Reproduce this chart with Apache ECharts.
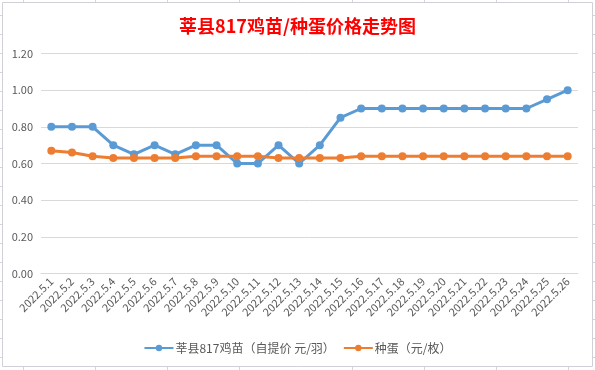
<!DOCTYPE html>
<html><head><meta charset="utf-8">
<script src="https://cdn.jsdelivr.net/npm/echarts@6/dist/echarts.min.js"></script>
<style>html,body{margin:0;padding:0;background:#fff}#c{width:595px;height:370px}</style>
</head><body><div id="c"></div>
<script>
var categories = ['2022.5.1','2022.5.2','2022.5.3','2022.5.4','2022.5.5','2022.5.6','2022.5.7','2022.5.8','2022.5.9','2022.5.10','2022.5.11','2022.5.12','2022.5.13','2022.5.14','2022.5.15','2022.5.16','2022.5.17','2022.5.18','2022.5.19','2022.5.20','2022.5.21','2022.5.22','2022.5.23','2022.5.24','2022.5.25','2022.5.26'];
var chickPrice = [0.80,0.80,0.80,0.70,0.65,0.70,0.65,0.70,0.70,0.60,0.60,0.70,0.60,0.70,0.85,0.90,0.90,0.90,0.90,0.90,0.90,0.90,0.90,0.90,0.95,1.00];
var eggPrice = [0.67,0.66,0.64,0.63,0.63,0.63,0.63,0.64,0.64,0.64,0.64,0.63,0.63,0.63,0.63,0.64,0.64,0.64,0.64,0.64,0.64,0.64,0.64,0.64,0.64,0.64];
var seriesNames = ['莘县817鸡苗（自提价 元/羽）','种蛋（元/枚）'];
var titleText = '莘县817鸡苗/种蛋价格走势图';

var chart = echarts.init(document.getElementById('c'), null, {renderer:'canvas'});
var lineCol = '#d4d4dc';
var gfx = [];
// spreadsheet cell gridlines peeking outside the chart area
var cols = [23,95,167,239,352,424,496,568];
var rows = [];
for (var r = 15; r <= 360; r += 19) rows.push(r);
cols.forEach(function(x){
  gfx.push({type:'line',shape:{x1:x+0.5,y1:0,x2:x+0.5,y2:2},style:{stroke:lineCol,lineWidth:1},silent:true});
  gfx.push({type:'line',shape:{x1:x+0.5,y1:367,x2:x+0.5,y2:370},style:{stroke:lineCol,lineWidth:1},silent:true});
});
rows.forEach(function(y){
  gfx.push({type:'line',shape:{x1:0,y1:y+0.5,x2:2,y2:y+0.5},style:{stroke:lineCol,lineWidth:1},silent:true});
  gfx.push({type:'line',shape:{x1:593,y1:y+0.5,x2:595,y2:y+0.5},style:{stroke:lineCol,lineWidth:1},silent:true});
});
gfx.push({type:'rect',shape:{x:2.5,y:2.5,width:590,height:364},style:{fill:null,stroke:'#d0d0d8',lineWidth:1},silent:true,z:-1});

chart.setOption({
  backgroundColor:'#fff',
  animation:false,
  title:{text:titleText,left:'center',top:12,textStyle:{color:'#ff0000',fontSize:18,fontWeight:'bold',fontFamily:'Noto Sans CJK SC'}},
  graphic:gfx,
  grid:{left:41,right:17,top:53.5,bottom:96.5,containLabel:false},
  legend:{bottom:11,left:'center',itemWidth:29,itemHeight:8,itemGap:8,
    textStyle:{color:'#595959',fontSize:12,fontFamily:'Noto Sans CJK SC',padding:[0,0,0,-3]},data:seriesNames},
  xAxis:{type:'category',data:categories,boundaryGap:true,
    axisLine:{lineStyle:{color:'#d9d9d9'}},axisTick:{show:false},
    axisLabel:{rotate:45,interval:0,color:'#595959',fontSize:11,fontFamily:'Noto Sans CJK SC',margin:6}},
  yAxis:{type:'value',min:0,max:1.2,interval:0.2,
    axisLine:{show:false},axisTick:{show:false},
    splitLine:{lineStyle:{color:'#d9d9d9'}},
    axisLabel:{color:'#595959',fontSize:11,fontFamily:'Noto Sans CJK SC',margin:8,formatter:function(v){return v.toFixed(2);}}},
  series:[
    {name:seriesNames[0],type:'line',data:chickPrice,symbol:'circle',symbolSize:8,
      lineStyle:{width:3,color:'#5b9bd5'},itemStyle:{color:'#5b9bd5'}},
    {name:seriesNames[1],type:'line',data:eggPrice,symbol:'circle',symbolSize:8,
      lineStyle:{width:3,color:'#ed7d31'},itemStyle:{color:'#ed7d31'}}
  ]
});
</script></body></html>
